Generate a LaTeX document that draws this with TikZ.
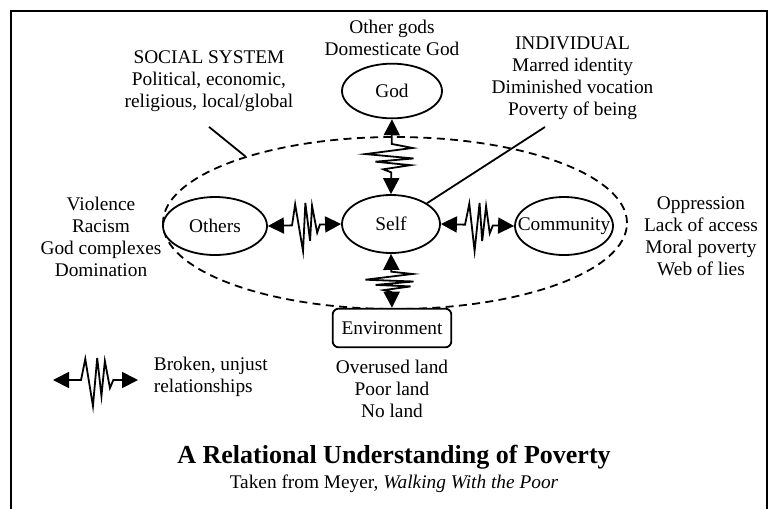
\documentclass[tikz,border=0pt]{standalone}
\usepackage{fontspec}
\setmainfont{Liberation Serif}
\usetikzlibrary{arrows.meta,calc,positioning,shapes.geometric}

\begin{document}
\begin{tikzpicture}[
		x=0.75pt, y=-0.75pt,
		line width=1.35pt,
		font=\fontsize{14.5}{16.5}\selectfont,
		ring/.style={
			ellipse,
			draw=black,
			fill=white,
			inner sep=0pt,
			minimum width=#1,
			minimum height=43.5pt
		},
		envbox/.style={
			rectangle,
			rounded corners=4.5pt,
			draw=black,
			fill=white,
			minimum width=89pt,
			minimum height=29pt
		},
		txt/.style={
			align=center,
			inner sep=0pt
		},
		zz/.style={
			{Triangle[length=12pt,width=12pt]}-{Triangle[length=12pt,width=12pt]},
			to path={
				-- ($(\tikztostart)!0.33!(\tikztotarget)$)
				-- ($(\tikztostart)!0.38!(\tikztotarget)!15.75pt!90:(\tikztotarget)$)
				-- ($(\tikztostart)!0.47!(\tikztotarget)!-19.5pt!90:(\tikztotarget)$)
				-- ($(\tikztostart)!0.52!(\tikztotarget)!16.5pt!90:(\tikztotarget)$)
				-- ($(\tikztostart)!0.57!(\tikztotarget)!-12pt!90:(\tikztotarget)$)
				-- ($(\tikztostart)!0.61!(\tikztotarget)!14.25pt!90:(\tikztotarget)$)
				-- ($(\tikztostart)!0.67!(\tikztotarget)!-6pt!90:(\tikztotarget)$)
				-- ($(\tikztostart)!0.71!(\tikztotarget)$)
				-- (\tikztotarget)
			}
		}
		]
		\useasboundingbox (0,0) rectangle (781,508);
		\draw [line width=1.6pt] (11,11) rectangle (767,530);
		
		% the social system round everything
		\node [ellipse, draw, dash pattern=on 6pt off 4pt, minimum width=348pt, minimum height=129pt] (social) at (395,223) {};
		
		% the blocks
		\node [ring=75pt, minimum height=41pt] (god) at (392,91) {\makebox[0pt]{God}};
		\node [ring=73.5pt] (self) at (391,224) {\makebox[0pt]{Self}};
		\node [ring=78pt] (others) at (215,226) {\makebox[0pt]{Others}};
		\node [ring=73.5pt] (community) at (564,226) {\makebox[0pt]{Community}};
		\node [envbox] (env) at (392,328) {Environment};
		
		% the notes
		\node [txt] (godnotes) at (392,38) {Other gods\\Domesticate God};
		\node [txt] (socialnotes) at (209,81.5) {SOCIAL SYSTEM\\Political, economic,\\religious, local/global};
		\node [txt] (indivnotes) at (572.5,78) {INDIVIDUAL\\Marred identity\\Diminished vocation\\Poverty of being};
		\node [txt] (othersnotes) at (101,237) {Violence\\Racism\\God complexes\\Domination};
		\node [txt] (commnotes) at (701,236) {Oppression\\Lack of access\\Moral poverty\\Web of lies};
		\node [txt] (envnotes) at (392,389) {Overused land\\Poor land\\No land};
		\node [txt, align=left, anchor=west] (legendnotes) at (153,376.5) {Broken, unjust\\relationships};
		
		\node [txt, anchor=base, font=\fontsize{19.5}{22}\selectfont\bfseries] (title) at (394,463) {A Relational Understanding of Poverty};
		\node [txt, anchor=base] (source) at (394,488) {Taken from Meyer, \textit{Walking With the Poor}};
		
		% pointers
		\coordinate (indivtip) at (545,127);
		\draw (social.156) -- ([yshift=-10.5pt]socialnotes.south);
		\draw (indivtip) -- (self.30);
		
		% broken relationships
		\draw [zz] (god.south) to (self.north);
		\draw [zz] (others.east) to (self.west);
		\draw [zz] (self.east) to (community.west);
		\draw [zz] (self.south) to (env.north);
		
		\coordinate (legendL) at (53,380);
		\coordinate (legendR) at (138,380);
		\draw [zz] (legendL) to (legendR);
		
\end{tikzpicture}
\end{document}
